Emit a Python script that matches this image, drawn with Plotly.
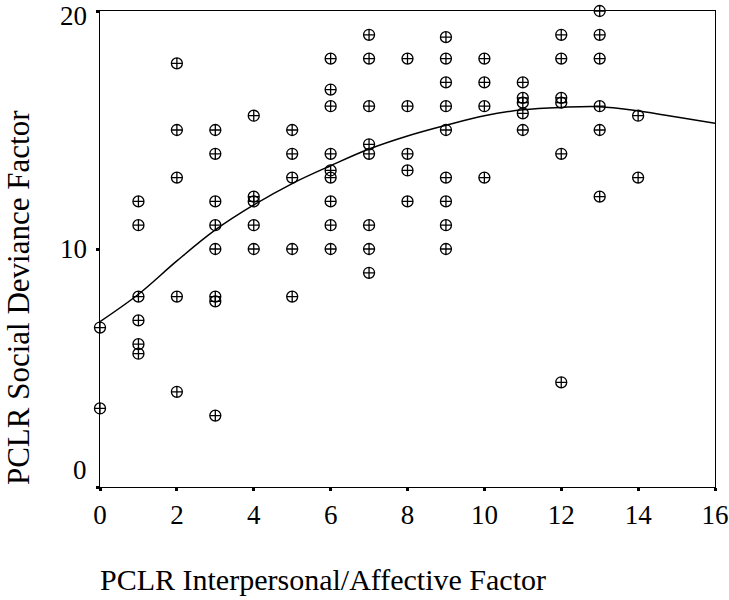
import plotly.graph_objects as go

# Scatter data: x = PCLR Interpersonal/Affective Factor, y = PCLR Social Deviance Factor
x_vals = ([0]*2 + [1]*6 + [2]*5 + [3]*8 + [4]*5 + [5]*5 + [6]*9 + [7]*8 +
          [8]*5 + [9]*9 + [10]*4 + [11]*5 + [12]*6 + [13]*6 + [14]*2)
y_vals = [6.7, 3.3,
          12, 11, 8, 7, 6, 5.6,
          17.8, 15, 13, 8, 4,
          15, 14, 12, 11, 10, 8, 7.8, 3,
          15.6, 12.2, 12, 11, 10,
          15, 14, 13, 10, 8,
          18, 16.7, 16, 14, 13.3, 13, 12, 11, 10,
          19, 18, 16, 14.4, 14, 11, 10, 9,
          18, 16, 14, 13.3, 12,
          18.9, 18, 17, 16, 15, 13, 12, 11, 10,
          18, 17, 16, 13,
          17, 16.35, 16.15, 15.7, 15,
          19, 18, 16.35, 16.15, 14, 4.4,
          20, 19, 18, 16, 15, 12.2,
          15.6, 13]

# Fitted curve values
fit_x = [0, 1, 2, 3, 4, 5, 6, 7, 8, 9, 10, 11, 12, 13, 14, 15, 16]
fit_y = [6.95, 8.1, 9.5, 10.8, 11.85, 12.75, 13.5, 14.2, 14.75, 15.2, 15.6,
         15.85, 15.95, 15.98, 15.8, 15.55, 15.28]

x_ticks = [0, 2, 4, 6, 8, 10, 12, 14, 16]
y_ticks = [0, 10, 20]
y_tick_labels = ["0", "10", "20"]

FONT = "Liberation Serif"

fig = go.Figure()
fig.add_trace(go.Scatter(
    x=fit_x, y=fit_y, mode="lines", line=dict(color="black", width=1.5, shape="spline"),
    hoverinfo="skip", cliponaxis=False))
fig.add_trace(go.Scatter(
    x=x_vals, y=y_vals, mode="markers",
    marker=dict(symbol="circle-cross-open", size=11, color="black",
                line=dict(color="black", width=1.3)),
    cliponaxis=False))

axis_common = dict(showgrid=False, zeroline=False, showline=True, linecolor="black",
                   linewidth=1.3, mirror=True, ticks="outside", ticklen=3, tickwidth=3,
                   tickcolor="black", tickfont=dict(size=27, family=FONT, color="black"),
                   ticklabeloverflow="allow", automargin=False)

# y tick labels drawn as text next to their ticks (0 sits raised, 20 kept inside the page)
ytick_annots = [
    dict(text=y_tick_labels[0], x=0, y=y_ticks[0], xref="paper", yref="y",
         xanchor="right", yanchor="middle", xshift=-11, yshift=17,
         showarrow=False, font=dict(size=27, family=FONT)),
    dict(text=y_tick_labels[1], x=0, y=y_ticks[1], xref="paper", yref="y",
         xanchor="right", yanchor="middle", xshift=-11,
         showarrow=False, font=dict(size=27, family=FONT)),
    dict(text=y_tick_labels[2], x=0, y=y_ticks[2], xref="paper", yref="y",
         xanchor="right", yanchor="top", xshift=-11, yshift=12,
         showarrow=False, font=dict(size=27, family=FONT)),
]

fig.update_layout(
    width=729, height=600,
    margin=dict(l=100, r=14, t=11, b=113),
    paper_bgcolor="white", plot_bgcolor="white",
    showlegend=False,
    font=dict(family=FONT, color="black", size=27),
    xaxis=dict(range=[0, 16], tickvals=x_ticks, ticktext=[str(v) for v in x_ticks],
               **axis_common),
    yaxis=dict(range=[0, 20], tickvals=y_ticks, showticklabels=False,
               **axis_common),
    annotations=ytick_annots + [
        dict(text="PCLR Interpersonal/Affective Factor", x=0.3618, y=-0.195,
             xref="paper", yref="paper", xanchor="center", yanchor="middle",
             showarrow=False, font=dict(size=30, family=FONT)),
        dict(text="PCLR Social Deviance Factor", x=-0.1333, y=0.397,
             xref="paper", yref="paper", xanchor="center", yanchor="middle",
             textangle=-90, showarrow=False, font=dict(size=31, family=FONT)),
    ],
)

fig.write_html("out.html", config={"displayModeBar": False},
               post_script="document.body.style.margin='0px';document.body.style.overflow='hidden';")
